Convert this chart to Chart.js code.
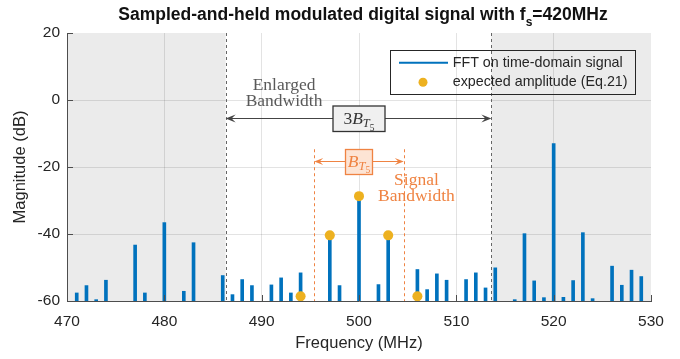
<!DOCTYPE html>
<html>
<head>
<meta charset="utf-8">
<script src="https://cdn.jsdelivr.net/npm/chart.js@4"></script>
<style>
  html, body { margin: 0; padding: 0; background: #fff; }
  canvas { display: block; }
</style>
</head>
<body>
<canvas id="fftChart" width="680" height="359"></canvas>
<script>
// FFT lines (MHz / dB)
var freqs = [471, 472, 473, 474, 477, 478, 480, 482, 483,
  486, 487, 488, 489, 491, 492, 493, 494, 497, 498, 500, 502, 503,
  506, 507, 508, 509, 511, 512, 513, 514,
  516, 517, 518, 519, 520, 521, 522, 523, 524, 526, 527, 528, 529];
var mags = [-57.6, -55.4, -59.6, -53.8, -43.3, -57.6, -36.6, -57.1, -42.6,
  -52.4, -58.1, -53.6, -55.4, -55.2, -53.1, -57.6, -51.6, -40.4, -55.4, -28.7, -55.1, -40.4,
  -50.6, -56.6, -51.9, -53.8, -53.6, -51.6, -56.1, -50.1,
  -59.6, -39.9, -54, -59, -13, -58.9, -53.9, -39.6, -59.3, -49.6, -55.3, -50.8, -52.7];
// expected amplitudes (Eq.21)
var expFreqs = [494, 497, 500, 503, 506];
var expMags = [-58.6, -40.4, -28.7, -40.4, -58.6];

var xTicks = [470, 480, 490, 500, 510, 520, 530];
var yTicks = [-60, -40, -20, 0, 20];
var enlargedBand = [486.3, 513.6];
var signalBand = [495.4, 504.6];
var seriesNames = ['FFT on time-domain signal', 'expected amplitude (Eq.21)'];

var BLUE = '#0072bd', GOLD = '#edb120', ORANGE = '#ef8342', INK = '#262626';
var SANS = '"Liberation Sans", Arial, sans-serif';
var SERIF = '"Liberation Serif", "Times New Roman", serif';

function mathText(ctx, parts, cx, baseY, color) {
  var w = 0;
  parts.forEach(function(p) { ctx.font = p.font; w += ctx.measureText(p.t).width + (p.kern || 0); });
  var x = cx - w / 2;
  ctx.fillStyle = color;
  ctx.textAlign = 'left';
  ctx.textBaseline = 'alphabetic';
  parts.forEach(function(p) {
    ctx.font = p.font;
    ctx.fillText(p.t, x, baseY + (p.dy || 0));
    x += ctx.measureText(p.t).width + (p.kern || 0);
  });
}

function arrowHead(ctx, x, y, dir, len, wid) {
  ctx.beginPath();
  ctx.moveTo(x, y);
  ctx.lineTo(x - dir * len, y - wid / 2);
  ctx.lineTo(x - dir * len * 0.6, y);
  ctx.lineTo(x - dir * len, y + wid / 2);
  ctx.closePath();
  ctx.fill();
}

function doubleArrow(ctx, x1, x2, y, color, len, wid) {
  ctx.strokeStyle = color;
  ctx.fillStyle = color;
  ctx.lineWidth = 1;
  ctx.setLineDash([]);
  ctx.beginPath();
  ctx.moveTo(x1 + 2, y);
  ctx.lineTo(x2 - 2, y);
  ctx.stroke();
  arrowHead(ctx, x1, y, -1, len, wid);
  arrowHead(ctx, x2, y, 1, len, wid);
}

var annotations = {
  id: 'annotations',
  beforeDraw: function(chart) {
    var ctx = chart.ctx, a = chart.chartArea, xs = chart.scales.x;
    var l = xs.getPixelForValue(enlargedBand[0]);
    var r = xs.getPixelForValue(enlargedBand[1]);
    ctx.save();
    ctx.fillStyle = '#fff';
    ctx.fillRect(0, 0, chart.width, chart.height);
    ctx.fillStyle = '#ebebeb';
    ctx.fillRect(a.left, a.top, l - a.left, a.bottom - a.top);
    ctx.fillRect(r, a.top, a.right - r, a.bottom - a.top);
    ctx.restore();
  },
  beforeDatasetsDraw: function(chart) {
    var ctx = chart.ctx, a = chart.chartArea, xs = chart.scales.x, ys = chart.scales.y;
    ctx.save();
    ctx.lineWidth = 1;
    ctx.setLineDash([3, 3]);
    ctx.strokeStyle = '#666';
    enlargedBand.forEach(function(f) {
      var px = Math.round(xs.getPixelForValue(f)) + 0.5;
      ctx.beginPath(); ctx.moveTo(px, a.top); ctx.lineTo(px, a.bottom); ctx.stroke();
    });
    ctx.strokeStyle = ORANGE;
    var top = ys.getPixelForValue(-14.7);
    signalBand.forEach(function(f) {
      var px = Math.round(xs.getPixelForValue(f)) + 0.5;
      ctx.beginPath(); ctx.moveTo(px, top); ctx.lineTo(px, a.bottom); ctx.stroke();
    });
    ctx.restore();
  },
  afterDatasetsDraw: function(chart) {
    var ctx = chart.ctx, xs = chart.scales.x, ys = chart.scales.y;
    var cx = xs.getPixelForValue(500);
    ctx.save();
    // enlarged bandwidth
    var yb = Math.round(ys.getPixelForValue(-5.5)) + 0.5;
    doubleArrow(ctx, xs.getPixelForValue(enlargedBand[0]), xs.getPixelForValue(enlargedBand[1]), yb, '#444', 10, 8);
    ctx.fillStyle = '#f0f0f0';
    ctx.strokeStyle = '#333';
    ctx.lineWidth = 1.3;
    ctx.fillRect(cx - 26, yb - 12.5, 52, 25.5);
    ctx.strokeRect(cx - 26, yb - 12.5, 52, 25.5);
    mathText(ctx, [
      { t: '3', font: '17.5px ' + SERIF },
      { t: 'B', font: 'italic 17.5px ' + SERIF, kern: 0 },
      { t: 'T', font: 'italic 12.5px ' + SERIF, dy: 3 },
      { t: '5', font: '9.5px ' + SERIF, dy: 6.5 }
    ], cx, yb + 5.5, '#333');
    ctx.font = '17.5px ' + SERIF;
    ctx.fillStyle = '#595959';
    ctx.textAlign = 'center';
    ctx.textBaseline = 'middle';
    var ex = xs.getPixelForValue(492.3);
    ctx.fillText('Enlarged', ex, ys.getPixelForValue(4.5));
    ctx.fillText('Bandwidth', ex, ys.getPixelForValue(-0.5));

    // signal bandwidth
    var yo = Math.round(ys.getPixelForValue(-18.3)) + 0.5;
    doubleArrow(ctx, xs.getPixelForValue(signalBand[0]), xs.getPixelForValue(signalBand[1]), yo, ORANGE, 9, 7);
    ctx.fillStyle = '#fde4d4';
    ctx.strokeStyle = ORANGE;
    ctx.lineWidth = 1.3;
    ctx.fillRect(cx - 13.5, yo - 12, 27, 25);
    ctx.strokeRect(cx - 13.5, yo - 12, 27, 25);
    mathText(ctx, [
      { t: 'B', font: 'italic 17.5px ' + SERIF, kern: 0 },
      { t: 'T', font: 'italic 12.5px ' + SERIF, dy: 3 },
      { t: '5', font: '9.5px ' + SERIF, dy: 6.5 }
    ], cx, yo + 5, ORANGE);
    ctx.font = '17.5px ' + SERIF;
    ctx.fillStyle = ORANGE;
    ctx.textAlign = 'center';
    ctx.textBaseline = 'middle';
    var sx = xs.getPixelForValue(505.9);
    ctx.fillText('Signal', sx, ys.getPixelForValue(-23.9));
    ctx.fillText('Bandwidth', sx, ys.getPixelForValue(-28.9));
    ctx.restore();
  },
  afterDraw: function(chart) {
    var ctx = chart.ctx, a = chart.chartArea, xs = chart.scales.x, ys = chart.scales.y;
    ctx.save();
    // inward ticks
    ctx.strokeStyle = '#4d4d4d';
    ctx.lineWidth = 1;
    xTicks.forEach(function(v) {
      var px = Math.round(xs.getPixelForValue(v)) + 0.5;
      ctx.beginPath(); ctx.moveTo(px, a.bottom); ctx.lineTo(px, a.bottom - 6); ctx.stroke();
    });
    yTicks.forEach(function(v) {
      var py = Math.round(ys.getPixelForValue(v)) + 0.5;
      ctx.beginPath(); ctx.moveTo(a.left, py); ctx.lineTo(a.left + 6, py); ctx.stroke();
    });

    // title with subscript
    mathText(ctx, [
      { t: 'Sampled-and-held modulated digital signal with f', font: 'bold 17.5px ' + SANS },
      { t: 's', font: 'bold 12px ' + SANS, dy: 6 },
      { t: '=420MHz', font: 'bold 17.5px ' + SANS }
    ], 363, 20, '#111');

    // legend
    var lx = a.right - 261, ly = a.top + 17, lw = 245, lh = 44;
    ctx.strokeStyle = INK;
    ctx.lineWidth = 1;
    ctx.strokeRect(Math.round(lx) + 0.5, Math.round(ly) + 0.5, lw, lh);
    ctx.strokeStyle = BLUE;
    ctx.lineWidth = 2;
    ctx.beginPath(); ctx.moveTo(lx + 9, ly + 12.7); ctx.lineTo(lx + 58, ly + 12.7); ctx.stroke();
    ctx.fillStyle = GOLD;
    ctx.beginPath(); ctx.arc(lx + 33, ly + 32.3, 4.5, 0, Math.PI * 2); ctx.fill();
    ctx.fillStyle = INK;
    ctx.font = '14.3px ' + SANS;
    ctx.textAlign = 'left';
    ctx.textBaseline = 'middle';
    ctx.fillText(seriesNames[0], lx + 62.7, ly + 13);
    ctx.fillText(seriesNames[1], lx + 62.7, ly + 32.5);
    ctx.restore();
  }
};

var ctx = document.getElementById('fftChart').getContext('2d');

var fftChart = new Chart(ctx, {
  type: 'bar',
  data: {
    datasets: [
      {
        type: 'scatter',
        label: seriesNames[1],
        data: expFreqs.map(function(f, i) { return { x: f, y: expMags[i] }; }),
        backgroundColor: GOLD,
        borderWidth: 0,
        pointRadius: 5,
        order: 0
      },
      {
        label: seriesNames[0],
        data: freqs.map(function(f, i) { return { x: f, y: [-60, mags[i]] }; }),
        backgroundColor: BLUE,
        borderWidth: 0,
        barThickness: 3,
        order: 1
      }
    ]
  },
  options: {
    responsive: false,
    devicePixelRatio: 1,
    animation: false,
    layout: { padding: { top: 33, right: 29, left: 0, bottom: 0 } },
    plugins: {
      legend: { display: false },
      tooltip: { enabled: false },
      title: { display: false }
    },
    scales: {
      x: {
        type: 'linear',
        min: 470,
        max: 530,
        offset: false,
        afterBuildTicks: function(scale) { scale.ticks = xTicks.map(function(v) { return { value: v }; }); },
        afterFit: function(scale) { scale.height = 58; },
        grid: {
          offset: false,
          drawTicks: false,
          color: function(c) { return (c.tick && (c.tick.value === 470 || c.tick.value === 530)) ? 'rgba(0,0,0,0)' : 'rgba(38,38,38,0.13)'; }
        },
        border: { display: true, color: '#4d4d4d', width: 1 },
        ticks: { padding: 11, color: INK, font: { family: SANS, size: 15.5 }, maxRotation: 0 },
        title: { display: true, text: 'Frequency (MHz)', color: INK, font: { family: SANS, size: 16.5 }, padding: { top: 0, bottom: 6 } }
      },
      y: {
        min: -60,
        max: 20,
        afterBuildTicks: function(scale) { scale.ticks = yTicks.map(function(v) { return { value: v }; }); },
        afterFit: function(scale) { scale.width = 67; },
        grid: {
          drawTicks: false,
          color: function(c) { return (c.tick && (c.tick.value === -60 || c.tick.value === 20)) ? 'rgba(0,0,0,0)' : 'rgba(38,38,38,0.13)'; }
        },
        border: { display: true, color: '#4d4d4d', width: 1 },
        ticks: { padding: 7, color: INK, font: { family: SANS, size: 15.5 } },
        title: { display: true, text: 'Magnitude (dB)', color: INK, font: { family: SANS, size: 16.5 }, padding: { top: 11, bottom: 0 } }
      }
    }
  },
  plugins: [annotations]
});
</script>
</body>
</html>
